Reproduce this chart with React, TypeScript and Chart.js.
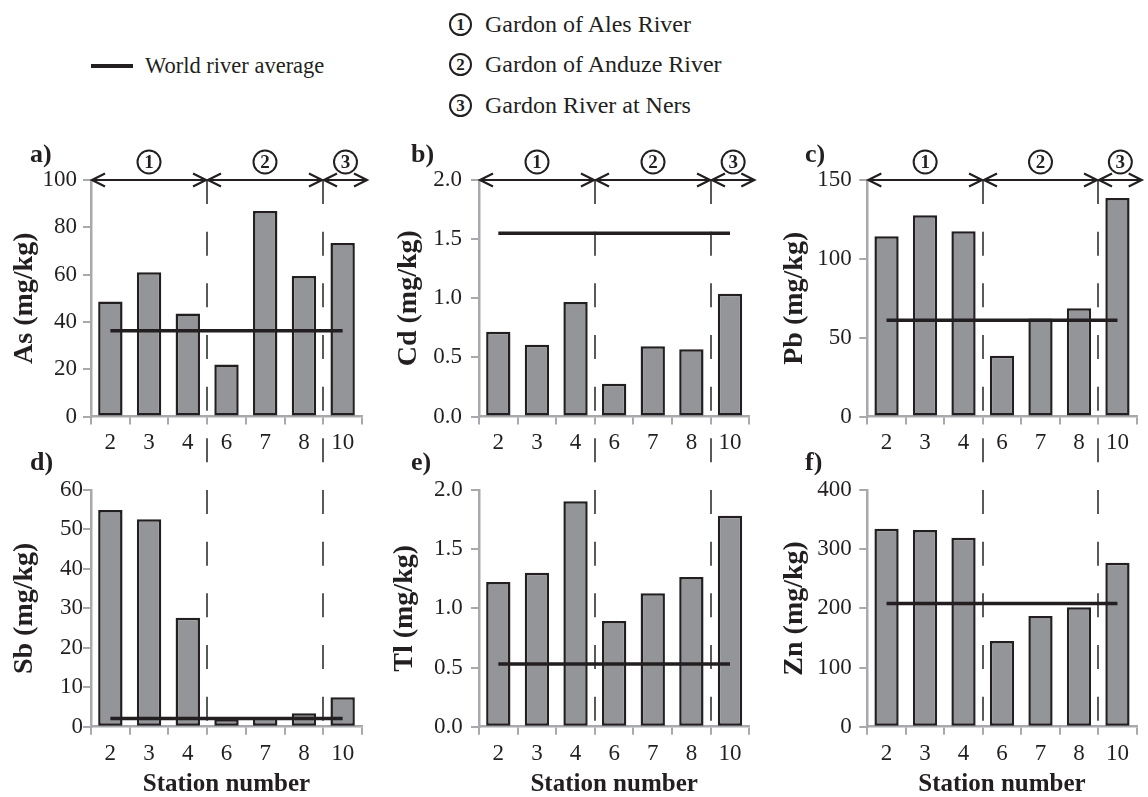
import React, { useEffect, useRef } from 'react';
import { Chart, registerables } from 'chart.js';

Chart.register(...registerables);

// ---------- data ----------
const stations = ['2', '3', '4', '6', '7', '8', '10'];
const stationGroups = [1, 1, 1, 2, 2, 2, 3];
const riverNames = ['Gardon of Ales River', 'Gardon of Anduze River', 'Gardon River at Ners'];
const averageLabel = 'World river average';
const xTitle = 'Station number';

const elements = ['As', 'Cd', 'Pb', 'Sb', 'Tl', 'Zn'];
const panelLetters = ['a)', 'b)', 'c)', 'd)', 'e)', 'f)'];

const asValues = [48.6, 61.0, 43.5, 22.0, 86.9, 59.4, 73.4];
const cdValues = [0.716, 0.606, 0.969, 0.276, 0.595, 0.569, 1.037];
const pbValues = [114.3, 127.6, 117.5, 38.5, 62.1, 68.7, 138.6];
const sbValues = [54.9, 52.6, 27.6, 1.9, 2.4, 3.4, 7.45];
const tlValues = [1.223, 1.3, 1.905, 0.893, 1.127, 1.265, 1.783];
const znValues = [334.6, 332.4, 319.4, 144.8, 187.1, 201.7, 277.2];
const panelValues = [asValues, cdValues, pbValues, sbValues, tlValues, znValues];

const worldAverages = [36.3, 1.55, 61, 2.1, 0.53, 208];
const yMaxima = [100, 2, 150, 60, 2, 400];
const ySteps = [20, 0.5, 50, 10, 0.5, 100];
const yDecimals = [0, 1, 0, 0, 1, 0];

// ---------- style / layout ----------
const INK = '#231f20';
const BAR = '#939598';
const AXIS = '#a7a9ac';
const DASH = '#58595b';
const SERIF = '"Liberation Serif", "Times New Roman", serif';

const COLS = [
  { left: 0, width: 380, axisW: 91, padR: 18, titlePad: [11, 11], letterX: 30, tickPad: [6, 0] },
  { left: 380, width: 380, axisW: 99, padR: 10.7, titlePad: [14.3, 11], letterX: 31, tickPad: [9, 8.3] },
  { left: 760, width: 388, axisW: 107.3, padR: 11.3, titlePad: [21, 21], letterX: 45, tickPad: [7.6, 7.6] },
];
const ROWS = [
  { top: 130, height: 335, padTop: 50, xAxisH: 48.5, letterY: 25 },
  { top: 445, height: 352, padTop: 45, xAxisH: 70.3, letterY: 18 },
];
const DASH_PERIOD = 51.67;

const decorPlugin = {
  id: 'panelDecor',
  beforeDatasetsDraw(chart: any, _args: any, opts: any) {
    const { ctx, chartArea } = chart;
    const x = chart.scales.x;
    const bounds: number[] = [];
    for (let i = 1; i < stationGroups.length; i++) {
      if (stationGroups[i] !== stationGroups[i - 1]) {
        bounds.push(Math.round((x.getPixelForValue(i - 1) + x.getPixelForValue(i)) / 2));
      }
    }
    ctx.save();
    if (!opts.topRow) {
      ctx.beginPath();
      ctx.rect(0, opts.clipTop, chart.width, chart.height);
      ctx.clip();
    }
    ctx.strokeStyle = DASH;
    ctx.lineWidth = 2;
    ctx.setLineDash([24, DASH_PERIOD - 24]);
    const y0 = opts.topRow ? chartArea.top : chartArea.top - DASH_PERIOD;
    const y1 = opts.topRow ? chart.height : chartArea.bottom;
    bounds.forEach((bx) => {
      ctx.beginPath();
      ctx.moveTo(bx, y0);
      ctx.lineTo(bx, y1);
      ctx.stroke();
    });
    ctx.restore();
    chart.$bounds = bounds;
  },
  afterDraw(chart: any, _args: any, opts: any) {
    const { ctx, chartArea } = chart;
    ctx.save();
    ctx.fillStyle = INK;
    ctx.font = `bold 26px ${SERIF}`;
    ctx.textAlign = 'left';
    ctx.textBaseline = 'middle';
    ctx.fillText(opts.letter, opts.letterX, opts.letterY);
    if (opts.topRow) {
      const bounds: number[] = chart.$bounds || [];
      const edges = [chartArea.left, ...bounds, chartArea.right + 6];
      const y = chartArea.top;
      ctx.strokeStyle = INK;
      ctx.lineWidth = 2.2;
      ctx.lineJoin = 'miter';
      const hl = 13;
      const hw = 6.5;
      const groupIds = Array.from(new Set(stationGroups));
      for (let g = 0; g < edges.length - 1; g++) {
        const x0 = edges[g] + 1;
        const x1 = edges[g + 1] - 1;
        ctx.beginPath();
        ctx.moveTo(x0, y);
        ctx.lineTo(x1, y);
        ctx.stroke();
        ctx.beginPath();
        ctx.moveTo(x0 + hl, y - hw);
        ctx.lineTo(x0, y);
        ctx.lineTo(x0 + hl, y + hw);
        ctx.stroke();
        ctx.beginPath();
        ctx.moveTo(x1 - hl, y - hw);
        ctx.lineTo(x1, y);
        ctx.lineTo(x1 - hl, y + hw);
        ctx.stroke();
        const cx = (edges[g] + edges[g + 1]) / 2;
        const cy = y - 18;
        ctx.beginPath();
        ctx.lineWidth = 2;
        ctx.arc(cx, cy, 11.5, 0, Math.PI * 2);
        ctx.stroke();
        ctx.lineWidth = 2.2;
        ctx.font = `bold 19px ${SERIF}`;
        ctx.textAlign = 'center';
        ctx.fillText(String(groupIds[g]), cx, cy + 1);
      }
    }
    ctx.restore();
  },
};

function Panel({ idx }: { idx: number }) {
  const ref = useRef<HTMLCanvasElement>(null);
  const row = idx < 3 ? 0 : 1;
  const col = idx % 3;
  const c = COLS[col];
  const r = ROWS[row];

  useEffect(() => {
    const chart = new Chart(ref.current as HTMLCanvasElement, {
      type: 'bar',
      data: {
        labels: stations,
        datasets: [
          {
            type: 'line',
            label: averageLabel,
            data: stations.map(() => worldAverages[idx]),
            borderColor: INK,
            borderWidth: 3.5,
            pointRadius: 0,
            fill: false,
            order: 1,
          } as any,
          {
            type: 'bar',
            label: elements[idx],
            data: panelValues[idx],
            backgroundColor: BAR,
            borderColor: INK,
            borderWidth: 2.5,
            borderSkipped: false,
            barPercentage: 0.63,
            categoryPercentage: 1,
            order: 2,
          } as any,
        ],
      },
      options: {
        responsive: false,
        animation: false,
        devicePixelRatio: 1,
        layout: { padding: { left: 0, right: c.padR, top: r.padTop, bottom: 0 } },
        plugins: {
          legend: { display: false },
          tooltip: { enabled: false },
          panelDecor: {
            letter: panelLetters[idx],
            letterX: c.letterX,
            letterY: r.letterY,
            topRow: row === 0,
            clipTop: ROWS[0].top + ROWS[0].height - ROWS[1].top,
          },
        } as any,
        scales: {
          x: {
            type: 'category',
            offset: true,
            grid: {
              offset: true,
              drawOnChartArea: false,
              drawTicks: true,
              tickLength: 8,
              color: AXIS,
              lineWidth: 2,
            },
            border: { color: AXIS, width: 2.5 },
            ticks: {
              color: INK,
              font: { family: SERIF, size: 23 },
              padding: 5,
              maxRotation: 0,
              autoSkip: false,
            },
            title:
              row === 1
                ? {
                    display: true,
                    text: xTitle,
                    color: INK,
                    font: { family: SERIF, size: 25, weight: 'bold', lineHeight: 1 },
                    padding: { top: 0, bottom: 0 },
                  }
                : { display: false },
            afterFit: (s: any) => {
              s.height = r.xAxisH;
            },
          },
          y: {
            min: 0,
            max: yMaxima[idx],
            ticks: {
              stepSize: ySteps[idx],
              color: INK,
              font: { family: SERIF, size: 23 },
              padding: c.tickPad[row],
              callback: (v: any) => Number(v).toFixed(yDecimals[idx]),
            },
            grid: {
              drawOnChartArea: false,
              drawTicks: true,
              tickLength: 8,
              color: AXIS,
              lineWidth: 2,
            },
            border: { color: AXIS, width: 2.5 },
            title: {
              display: true,
              text: `${elements[idx]} (mg/kg)`,
              color: INK,
              font: { family: SERIF, size: 28, weight: 'bold', lineHeight: 1 },
              padding: { top: c.titlePad[row], bottom: 0 },
            },
            afterFit: (s: any) => {
              s.width = c.axisW;
            },
          },
        },
      } as any,
      plugins: [decorPlugin as any],
    });
    return () => chart.destroy();
  }, []);

  return (
    <canvas
      ref={ref}
      width={c.width}
      height={r.height}
      style={{ position: 'absolute', left: c.left, top: r.top, width: c.width, height: r.height }}
    />
  );
}

export default function App() {
  const legendCenters = [24, 64, 105];
  return (
    <div
      style={{
        position: 'absolute',
        left: 0,
        top: 0,
        width: 1148,
        height: 797,
        background: '#ffffff',
        overflow: 'hidden',
        fontFamily: SERIF,
        color: INK,
      }}
    >
      <div
        style={{
          position: 'absolute',
          left: 91,
          top: 64,
          width: 42,
          height: 4,
          background: INK,
        }}
      />
      <div
        style={{
          position: 'absolute',
          left: 145,
          top: 51,
          height: 30,
          lineHeight: '30px',
          fontSize: 22.5,
          whiteSpace: 'nowrap',
        }}
      >
        {averageLabel}
      </div>
      {riverNames.map((name, i) => (
        <React.Fragment key={name}>
          <div
            style={{
              position: 'absolute',
              left: 449,
              top: legendCenters[i] - 11.5,
              width: 23,
              height: 23,
              border: `2px solid ${INK}`,
              borderRadius: '50%',
              boxSizing: 'border-box',
              fontSize: 17,
              fontWeight: 'bold',
              lineHeight: '19px',
              textAlign: 'center',
            }}
          >
            {String(i + 1)}
          </div>
          <div
            style={{
              position: 'absolute',
              left: 485,
              top: legendCenters[i] - 16,
              height: 32,
              lineHeight: '32px',
              fontSize: 24,
              whiteSpace: 'nowrap',
            }}
          >
            {name}
          </div>
        </React.Fragment>
      ))}
      {[0, 1, 2, 3, 4, 5].map((i) => (
        <Panel key={i} idx={i} />
      ))}
    </div>
  );
}
